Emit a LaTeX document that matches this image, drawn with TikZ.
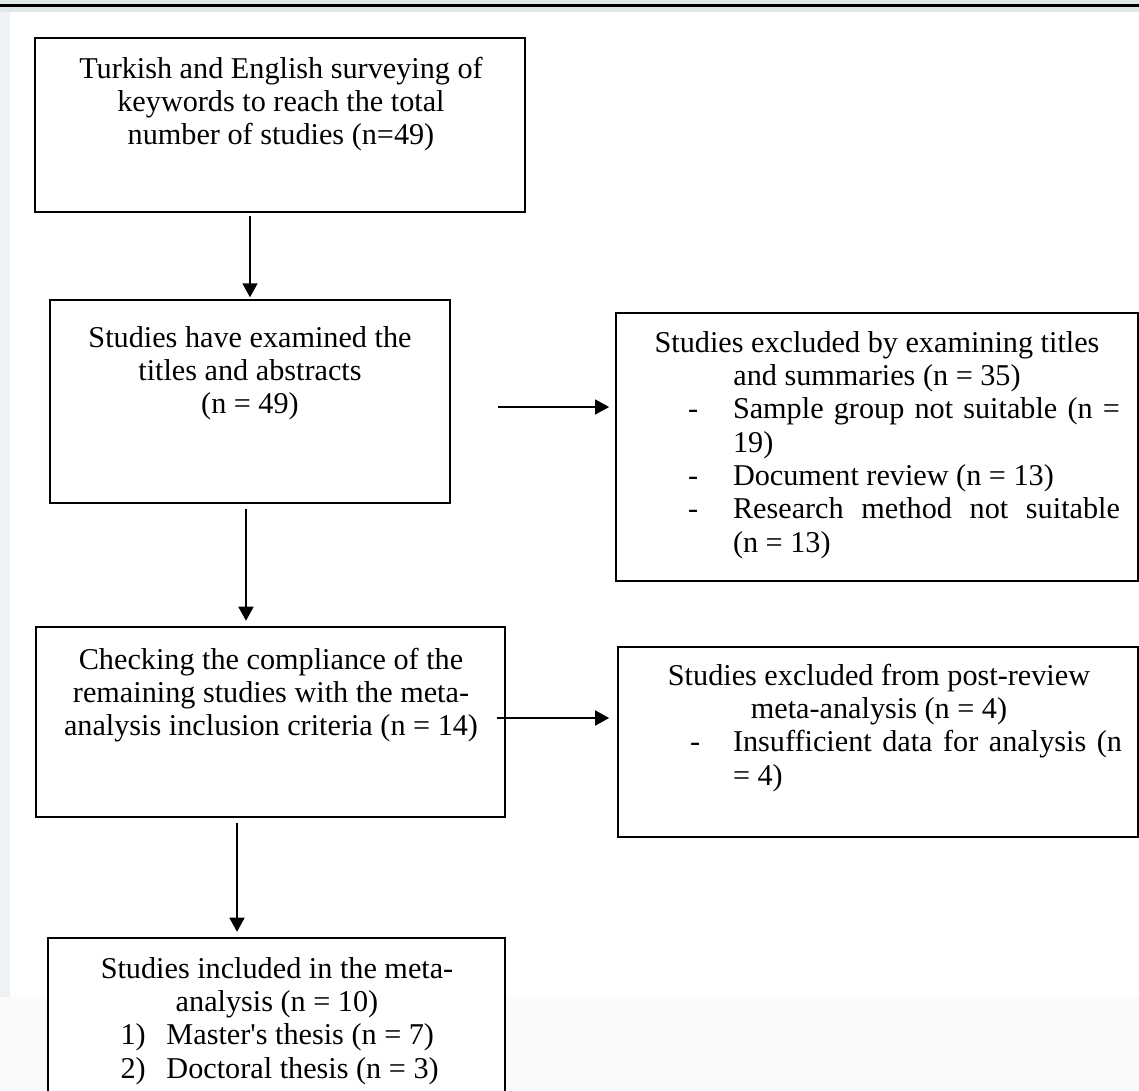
\documentclass[tikz,border=0pt]{standalone}
\usepackage{fontspec}
\setmainfont{Liberation Serif}[Ligatures=TeXOff]
\usetikzlibrary{arrows.meta}

\definecolor{bandgray}{HTML}{DFE7E7}
\definecolor{stripgray}{HTML}{EEF2F4}
\definecolor{pagegray}{HTML}{FAFAFA}

\newcommand{\flowfont}{\fontsize{17.2}{19}\selectfont}
% item with a label and a hanging text
\newcommand{\listitem}[3]{\par\noindent\hangindent=#2\hangafter=1\hspace*{#1}\makebox[\dimexpr#2-#1\relax][l]{#3}}

\begin{document}
\begin{tikzpicture}[>={Triangle[length=8pt,width=8.5pt]}, x=0.02cm, y=-0.02cm,
    flowbox/.style={draw, line width=1.1pt, fill=white, inner sep=0pt},
    boxtext/.style={inner sep=0pt, anchor=base, font=\flowfont, align=justify},
    arr/.style={->, line width=1.1pt}]
    \useasboundingbox (0,0) rectangle (1139,1090);
    \clip (0,0) rectangle (1139,1090);

    % page background
    \fill[bandgray] (0,0) rectangle (1139,12);
    \draw[line width=1.2pt] (0,5.5) -- (1139,5.5);
    \fill[stripgray] (0,12) rectangle (10,997);
    \fill[pagegray] (0,997) rectangle (1139,1090);

    % frames
    \node [flowbox, minimum width=9.8cm, minimum height=3.48cm] (search) at (280,125) {};
    \node [flowbox, minimum width=8cm, minimum height=4.06cm] (screen) at (250,401.5) {};
    \node [flowbox, minimum width=10.44cm, minimum height=5.36cm] (exclA) at (877,447) {};
    \node [flowbox, minimum width=9.38cm, minimum height=3.8cm] (check) at (270.5,722) {};
    \node [flowbox, minimum width=10.4cm, minimum height=3.8cm] (exclB) at (878,742) {};
    \node [flowbox, minimum width=9.14cm, minimum height=3.64cm] (incl) at (276.5,1029) {};

    % texts
    \node [boxtext, text width=9.4cm] (searchtxt) at (281,78) {%
        {\centering Turkish and English surveying of\par keywords to reach the total\par number of studies (n=49)\par}};
    \node [boxtext, text width=7.6cm] (screentxt) at (250,347) {%
        {\centering Studies have examined the\par titles and abstracts\par (n = 49)\par}};
    \node [boxtext, text width=9.72cm] (exclAtxt) at (877,352) {%
        {\centering Studies excluded by examining titles\par and summaries (n = 35)\par}
        \listitem{1.08cm}{1.98cm}{-}Sample group not suitable (n =\linebreak 19)
        \listitem{1.08cm}{1.98cm}{-}Document review (n = 13)
        \listitem{1.08cm}{1.98cm}{-}Research method not suitable\linebreak (n = 13)\par};
    \node [boxtext, text width=9cm] (checktxt) at (271,669) {%
        {\centering Checking the compliance of the\par remaining studies with the meta-\par analysis inclusion criteria (n = 14)\par}};
    \node [boxtext, text width=9.72cm] (exclBtxt) at (879,685) {%
        {\centering Studies excluded from post-review\par meta-analysis (n = 4)\par}
        \listitem{1.08cm}{1.94cm}{-}Insufficient data for analysis (n\linebreak = 4)\par};
    \node [boxtext, text width=9cm] (incltxt) at (277,978) {%
        {\centering Studies included in the meta-\par analysis (n = 10)\par}
        \listitem{1.37cm}{2.29cm}{1)}Master's thesis (n = 7)
        \listitem{1.37cm}{2.29cm}{2)}Doctoral thesis (n = 3)\par};

    % connectors
    \draw [arr, shorten <=1.7pt, shorten >=1pt] (search.south -| screen.north) -- (screen.north);
    \draw [arr, shorten <=3pt, shorten >=3pt] ([xshift=-0.08cm]screen.south) -- ([xshift=-0.08cm]screen.south |- check.north);
    \draw [arr, shorten <=3pt, shorten >=3pt] ([xshift=-0.67cm]check.south) -- ([xshift=-0.67cm]check.south |- incl.north);
    \draw [arr, shorten >=3.4pt] ([xshift=0.94cm, yshift=-0.11cm]screen.east) -- ([yshift=-0.11cm]screen.east -| exclA.west);
    \draw [arr, shorten >=4.5pt] ([xshift=-0.18cm, yshift=0.08cm]check.east) -- ([yshift=0.08cm]check.east -| exclB.west);
\end{tikzpicture}
\end{document}
